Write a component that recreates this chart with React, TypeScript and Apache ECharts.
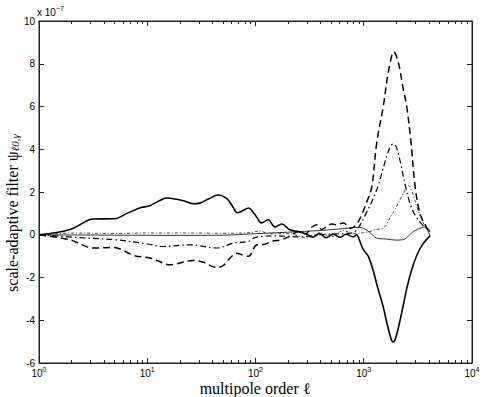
import React, { useEffect, useRef } from "react";
import * as echarts from "echarts";

// multipole order ℓ sample points and filter values (units of 1e-7)
const ellA = [1, 1.9, 2.9, 3.2, 5.0, 6.5, 8.8, 10.2, 12.5, 15.1, 18.7, 22, 26.6, 30.7, 37, 45.3, 54, 61, 68, 76, 86, 99, 114, 131, 151, 175, 208, 248, 297, 340, 390, 450, 520, 600, 690, 800, 860, 920, 991, 1100, 1225, 1350, 1500, 1650, 1811, 1880, 1950, 2100, 2318, 2500, 2773, 3100, 3500, 4093];
const valA = [0, 0.23, 0.70, 0.74, 0.75, 1.0, 1.28, 1.33, 1.55, 1.72, 1.66, 1.58, 1.45, 1.48, 1.68, 1.86, 1.7, 1.35, 1.03, 1.12, 1.25, 0.94, 0.55, 0.70, 0.36, 0.50, 0.23, 0.15, 0.02, -0.12, 0.06, -0.14, 0.03, -0.12, 0.02, -0.1, 0.0, -0.3, -0.7, -1.0, -1.7, -2.5, -3.3, -4.2, -4.95, -5.02, -4.9, -4.3, -3.3, -2.5, -1.64, -0.95, -0.45, -0.05];

const ellB = [1, 1.9, 2.84, 3.4, 4.8, 7.66, 10.6, 13, 15.7, 18, 20.1, 26.7, 33, 43.8, 50, 58, 67, 76, 86, 103, 120, 141, 175, 210, 250, 290, 330, 367, 410, 455, 510, 562, 648, 760, 860, 950, 1060, 1183, 1318, 1514, 1700, 1900, 2100, 2300, 2494, 2735, 2974, 3300, 3700, 4050];
const valB = [0, -0.23, -0.58, -0.62, -0.59, -0.98, -1.09, -1.25, -1.40, -1.38, -1.32, -1.2, -1.29, -1.53, -1.45, -1.1, -0.86, -0.95, -1.01, -0.47, -0.45, -0.31, -0.23, -0.05, 0.15, 0.05, 0.35, 0.47, 0.25, 0.39, 0.5, 0.47, 0.55, 0.3, 0.5, 0.9, 1.5, 2.2, 4.3, 6.0, 7.7, 8.55, 8.0, 6.9, 6.0, 4.3, 2.3, 1.0, 0.45, 0.15];

const ellC = [1, 2.84, 5, 9.8, 14.1, 24.8, 43.8, 62.4, 86, 100, 150, 250, 400, 600, 800, 923, 1050, 1200, 1362, 1550, 1750, 1876, 2000, 2200, 2430, 2700, 3000, 3500, 3940, 4100];
const valC = [0, -0.16, -0.23, -0.42, -0.55, -0.47, -0.62, -0.39, -0.31, -0.12, -0.05, -0.1, 0.0, 0.05, 0.1, 0.45, 1.0, 1.6, 2.3, 3.3, 4.1, 4.26, 4.1, 3.3, 2.26, 1.4, 0.9, 0.45, 0.23, 0.15];

const ellD = [1, 2, 5, 10, 20, 50, 90, 110, 130, 200, 300, 400, 500, 650, 800, 1000, 1143, 1225, 1514, 1746, 2000, 2300, 2583, 2800, 3100, 3548, 3900, 4100];
const valD = [0, 0.08, 0.06, 0.08, 0.08, 0.07, 0.1, 0.18, 0.05, 0.05, -0.15, 0.1, -0.1, 0.2, 0.05, 0.1, 0.15, 0.23, 0.31, 0.78, 1.3, 1.9, 2.3, 2.0, 1.3, 0.55, 0.3, 0.2];

const ellE = [1, 5, 20, 50, 100, 200, 400, 700, 900, 1000, 1143, 1318, 1600, 2000, 2318, 2600, 2866, 3300, 3675, 3900, 4100];
const valE = [0, -0.02, -0.03, -0.02, 0.05, 0.12, 0.2, 0.3, 0.35, 0.3, 0.1, -0.16, -0.2, -0.25, -0.23, -0.05, 0.15, 0.3, 0.36, 0.2, -0.05];

const xMinorTicks = [2, 3, 4, 5, 6, 7, 8, 9, 20, 30, 40, 50, 60, 70, 80, 90, 200, 300, 400, 500, 600, 700, 800, 900, 2000, 3000, 4000, 5000, 6000, 7000, 8000, 9000];

const pairs = (xs: number[], ys: number[]) => xs.map((x, i) => [x, ys[i]]);

const SANS = "'Liberation Sans', Arial, Helvetica, sans-serif";
const SERIF = "'Liberation Serif', 'Times New Roman', 'DejaVu Serif', serif";
const AXIS = "#222";

export default function App() {
  const ref = useRef<HTMLDivElement>(null);
  useEffect(() => {
    if (!ref.current) return;
    const chart = echarts.init(ref.current, undefined, { renderer: "svg" });
    const gridBox = { left: 39, right: 12, top: 21, bottom: 34, containLabel: false };
    const baseX = {
      type: "log" as const,
      logBase: 10,
      min: 1,
      max: 10000,
      splitLine: { show: false },
    };
    const baseY = {
      type: "value" as const,
      min: -6,
      max: 10,
      interval: 2,
      splitLine: { show: false },
    };
    const line = { show: true, onZero: false, lineStyle: { color: AXIS, width: 1 } };
    const noLine = { show: false, onZero: false };
    chart.setOption({
      animation: false,
      backgroundColor: "#fff",
      grid: [
        { ...gridBox, show: true, borderColor: AXIS, borderWidth: 1, backgroundColor: "transparent" },
        { ...gridBox },
      ],
      xAxis: [
        {
          ...baseX,
          gridIndex: 0,
          position: "bottom",
          axisLine: line,
          axisTick: { show: true, inside: true, length: 5, lineStyle: { color: AXIS } },
          axisLabel: {
            show: true,
            margin: 3,
            color: "#000",
            fontFamily: SANS,
            fontSize: 10,
            formatter: (v: number) => `10{sup|${Math.round(Math.log10(v))}}`,
            rich: {
              sup: { fontSize: 7, fontFamily: SANS, color: "#000", padding: [0, 0, 7, 0] },
            },
          },
        },
        {
          ...baseX,
          gridIndex: 0,
          position: "top",
          axisLine: line,
          axisLabel: { show: false },
          axisTick: { show: true, inside: true, length: 5, lineStyle: { color: AXIS } },
        },
        {
          ...baseX,
          gridIndex: 1,
          position: "bottom",
          axisLine: noLine,
          axisLabel: { show: false },
          axisTick: { show: true, inside: true, length: 3, customValues: xMinorTicks, lineStyle: { color: AXIS } },
        },
        {
          ...baseX,
          gridIndex: 1,
          position: "top",
          axisLine: noLine,
          axisLabel: { show: false },
          axisTick: { show: true, inside: true, length: 3, customValues: xMinorTicks, lineStyle: { color: AXIS } },
        },
      ],
      yAxis: [
        {
          ...baseY,
          gridIndex: 0,
          position: "left",
          axisLine: line,
          axisTick: { show: true, inside: true, length: 5, lineStyle: { color: AXIS } },
          axisLabel: { show: true, margin: 4, color: "#000", fontFamily: SANS, fontSize: 10 },
        },
        {
          ...baseY,
          gridIndex: 0,
          position: "right",
          axisLine: line,
          axisTick: { show: true, inside: true, length: 5, lineStyle: { color: AXIS } },
          axisLabel: { show: false },
        },
        {
          ...baseY,
          gridIndex: 1,
          position: "left",
          axisLine: noLine,
          axisTick: { show: false },
          axisLabel: { show: false },
        },
      ],
      graphic: [
        {
          type: "text",
          left: 37,
          top: 5,
          style: {
            text: "x 10{sup|−7}",
            fill: "#000",
            font: `10px ${SANS}`,
            rich: { sup: { fontSize: 7, fontFamily: SANS, padding: [0, 0, 7, 0] } },
          },
        },
        {
          type: "text",
          x: 12,
          y: 213,
          rotation: Math.PI / 2,
          style: {
            text: "scale-adaptive filter ψ{sub|ℓ0,γ}",
            fill: "#000",
            font: `16px ${SERIF}`,
            align: "center",
            verticalAlign: "middle",
            rich: { sub: { fontSize: 11, fontFamily: SERIF, fontStyle: "italic", padding: [6, 0, 0, 0] } },
          },
        },
        {
          type: "text",
          x: 255,
          y: 388,
          style: {
            text: "multipole order ℓ",
            fill: "#000",
            font: `16px ${SERIF}`,
            align: "center",
            verticalAlign: "middle",
          },
        },
      ],
      series: [
        {
          type: "line", name: "A", xAxisIndex: 0, yAxisIndex: 0, data: pairs(ellA, valA), showSymbol: false, smooth: 0.35,
          lineStyle: { color: "#000", width: 1.6, type: "solid" },
        },
        {
          type: "line", name: "B", xAxisIndex: 0, yAxisIndex: 0, data: pairs(ellB, valB), showSymbol: false, smooth: 0.35,
          lineStyle: { color: "#000", width: 1.5, type: [7, 4] },
        },
        {
          type: "line", name: "C", xAxisIndex: 0, yAxisIndex: 0, data: pairs(ellC, valC), showSymbol: false, smooth: 0.35,
          lineStyle: { color: "#000", width: 1.2, type: [6, 3, 1.5, 3] },
        },
        {
          type: "line", name: "D", xAxisIndex: 0, yAxisIndex: 0, data: pairs(ellD, valD), showSymbol: false, smooth: 0.35,
          lineStyle: { color: "#444", width: 1.0, type: [3, 2, 1, 2] },
        },
        {
          type: "line", name: "E", xAxisIndex: 0, yAxisIndex: 0, data: pairs(ellE, valE), showSymbol: false, smooth: 0.35,
          lineStyle: { color: "#000", width: 0.8, type: "solid" },
        },
      ],
    });
    return () => chart.dispose();
  }, []);
  return (
    <div
      ref={ref}
      style={{ position: "fixed", left: 0, top: 0, width: 484, height: 397 }}
    />
  );
}
